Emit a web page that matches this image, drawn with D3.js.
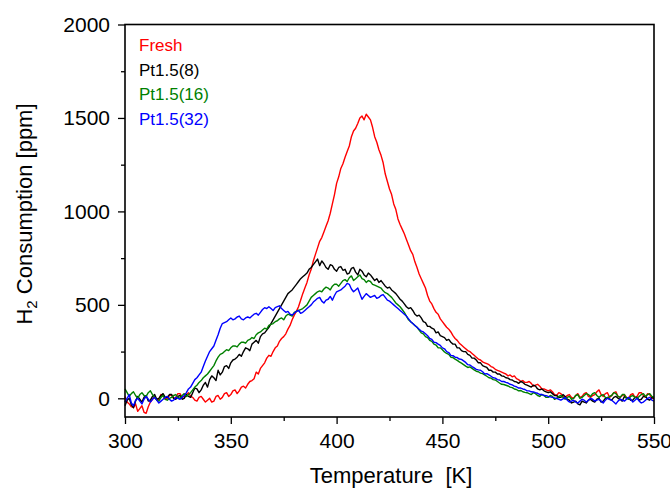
<!DOCTYPE html>
<html>
<head>
<meta charset="utf-8">
<script src="https://cdn.jsdelivr.net/npm/d3@7"></script>
<style>
  body { margin: 0; background: #fff; }
  svg { display: block; font-family: "Liberation Sans", Arial, sans-serif; }
</style>
</head>
<body>
<div id="chart"></div>
<script>
// temperatures: 300 K to 550 K, one reading every 1 K
var tStart = 300, tStep = 1;

var seriesNames = ["Fresh", "Pt1.5(8)", "Pt1.5(16)", "Pt1.5(32)"];
var seriesColors = ["#ff0000", "#000000", "#008000", "#0000ff"];

var fresh = [
  10,-20,-30,-45,-50,-30,-70,-55,-40,-75,
  -80,-45,-20,-5,10,-10,-5,20,15,-5,
  0,15,20,0,5,25,25,5,10,20,
  30,10,5,-10,-15,5,10,-5,-20,-10,
  0,-20,-15,10,15,-5,5,25,30,10,
  20,40,45,25,40,60,65,55,75,90,
  95,105,140,130,160,175,190,215,230,225,
  250,270,280,305,320,330,345,370,390,420,
  445,465,490,525,560,590,620,660,690,735,
  770,805,840,860,890,920,950,990,1040,1090,
  1150,1185,1230,1255,1290,1320,1350,1400,1430,1445,
  1470,1500,1510,1490,1520,1505,1490,1450,1400,1370,
  1330,1300,1260,1200,1160,1120,1090,1040,1010,960,
  930,905,880,850,820,790,770,730,700,665,
  640,615,590,550,520,505,480,460,450,425,
  410,395,380,370,355,335,320,310,295,285,
  275,265,255,250,240,230,220,210,205,195,
  190,185,180,170,165,155,150,145,140,135,
  130,120,125,115,120,105,100,90,95,85,
  85,90,80,65,70,75,65,50,50,45,
  40,45,35,20,15,30,25,10,5,15,
  20,5,0,15,25,5,10,25,30,10,
  5,15,20,35,45,20,10,25,30,5,
  15,30,35,10,5,15,20,5,0,20,
  25,5,10,30,30,15,5,25,20,0,
  0];

var pt8 = [
  -40,-10,0,-35,-50,-15,10,-5,-20,5,
  15,-15,-10,10,20,-5,0,15,25,5,
  5,20,20,0,-5,10,15,-5,0,20,
  10,5,30,55,50,30,45,70,85,60,
  100,120,110,95,150,125,140,170,175,160,
  190,205,210,220,235,225,250,270,265,255,
  290,300,310,295,330,345,350,365,380,400,
  420,440,460,480,500,520,540,560,570,580,
  595,610,625,640,650,660,670,690,700,715,
  730,745,710,735,720,700,690,715,710,690,
  680,700,705,685,690,665,670,695,700,675,
  660,690,680,660,650,670,660,645,630,640,
  620,630,615,600,590,595,580,570,560,545,
  530,520,505,490,480,485,470,450,440,445,
  430,410,405,385,385,375,370,350,355,335,
  330,325,310,315,300,290,290,270,270,255,
  250,250,235,230,215,215,205,190,190,175,
  170,165,150,150,140,140,130,130,120,118,
  110,108,100,98,90,88,80,90,85,75,
  70,65,60,70,65,50,45,50,40,35,
  30,35,25,15,15,5,5,20,10,-5,
  -10,-25,-20,-15,-30,-35,-15,-20,-25,-10,
  -5,-15,-20,-5,0,-20,-15,0,5,-5,
  -10,5,10,0,-5,-15,10,0,0,-10,
  -10,5,5,-10,-5,10,10,-5,-10,5,
  0];

var pt16 = [
  50,30,10,25,35,15,0,20,30,15,
  10,30,40,20,5,-10,-15,5,15,-5,
  -10,0,5,15,20,5,0,15,25,10,
  20,30,45,60,70,85,95,110,120,130,
  145,160,175,200,220,235,240,250,260,255,
  270,280,280,275,290,300,300,295,310,315,
  325,320,340,350,355,365,375,370,390,395,
  400,410,415,425,430,420,440,450,445,440,
  460,465,470,475,480,490,500,520,540,550,
  560,570,575,570,585,595,590,580,600,610,
  610,600,615,630,635,625,645,655,630,640,
  650,660,640,635,620,630,625,610,605,600,
  595,590,575,565,560,550,540,525,510,500,
  490,475,460,440,420,410,400,390,380,365,
  350,345,330,325,310,305,290,285,270,270,
  260,248,240,235,220,218,210,203,195,188,
  180,172,165,168,160,152,145,142,135,132,
  125,118,110,108,100,98,90,82,75,74,
  70,66,60,57,50,47,40,42,35,32,
  30,25,20,30,25,15,10,20,15,5,
  5,15,10,-5,0,10,15,5,-5,5,
  10,-5,0,15,20,0,5,15,25,20,
  10,25,30,15,5,15,20,5,0,10,
  15,30,25,10,5,20,20,0,-5,10,
  15,5,0,10,20,25,10,20,25,10,
  5];

var pt32 = [
  -20,0,20,-25,-40,-10,0,-15,-30,-5,
  10,-5,-20,-5,5,-10,-25,-15,-5,5,
  10,-5,-15,-10,5,0,-5,5,15,30,
  50,60,80,100,110,125,140,170,200,225,
  250,265,280,310,340,375,400,405,410,420,
  430,420,425,435,440,425,420,430,435,430,
  440,450,455,445,460,475,485,480,490,480,
  470,485,490,495,480,470,460,465,450,445,
  455,465,470,455,460,470,480,490,500,515,
  525,535,540,520,510,525,530,545,525,550,
  570,575,580,590,600,615,610,585,570,580,
  590,560,530,545,560,550,540,545,550,535,
  540,550,555,540,525,520,510,500,490,480,
  470,460,450,440,425,410,400,390,380,370,
  360,355,345,335,320,315,300,298,290,283,
  270,265,250,245,230,228,220,218,210,208,
  200,192,180,178,170,163,155,152,150,142,
  130,132,125,118,110,108,100,98,90,90,
  85,82,75,72,65,62,55,55,50,47,
  40,40,35,34,30,27,20,21,15,14,
  10,8,5,2,0,-5,-10,-3,5,-10,
  -20,-15,-10,-20,-25,-15,-5,-10,-20,-10,
  0,-5,-15,-10,-5,-15,-25,-10,0,-5,
  -10,-20,-30,-15,-5,-10,-15,-5,5,-5,
  -20,-10,0,-15,-25,-20,-10,0,5,-10,
  -15];

var seriesValues = [fresh, pt8, pt16, pt32];

var xTicks = [300, 350, 400, 450, 500, 550];
var yTicks = [0, 500, 1000, 1500, 2000];

// layout
var W = 670, H = 488;
var margin = {top: 24.5, right: 16, bottom: 71, left: 125};
var width = W - margin.left - margin.right;
var height = H - margin.top - margin.bottom;

var svg = d3.select("#chart").append("svg")
  .attr("width", W)
  .attr("height", H);

var g = svg.append("g")
  .attr("transform", "translate(" + margin.left + "," + margin.top + ")");

var x = d3.scaleLinear().domain([300, 550]).range([0, width]);
var y = d3.scaleLinear().domain([-100, 2000]).range([height, 0]);

// curves
var line = d3.line()
  .x(function(d, i) { return x(tStart + i * tStep); })
  .y(function(d) { return y(d); });

seriesValues.forEach(function(vals, k) {
  g.append("path")
    .datum(vals)
    .attr("fill", "none")
    .attr("stroke", seriesColors[k])
    .attr("stroke-width", 1.4)
    .attr("stroke-linejoin", "round")
    .attr("d", line);
});

// frame
g.append("rect")
  .attr("width", width)
  .attr("height", height)
  .attr("fill", "none")
  .attr("stroke", "#000")
  .attr("stroke-width", 1.6);

// minor ticks
var xMinor = d3.range(325, 550, 50);
var yMinor = d3.range(250, 2000, 500);

g.append("g")
  .attr("transform", "translate(0," + height + ")")
  .call(d3.axisBottom(x).tickValues(xMinor).tickSize(4).tickFormat(""))
  .call(function(a) { a.select(".domain").remove(); a.selectAll("line").attr("stroke-width", 1.3); });

g.append("g")
  .call(d3.axisLeft(y).tickValues(yMinor).tickSize(4).tickFormat(""))
  .call(function(a) { a.select(".domain").remove(); a.selectAll("line").attr("stroke-width", 1.3); });

// major axes
var xAxis = g.append("g")
  .attr("transform", "translate(0," + height + ")")
  .call(d3.axisBottom(x).tickValues(xTicks).tickSize(7).tickPadding(9).tickFormat(d3.format("d")));

var yAxis = g.append("g")
  .call(d3.axisLeft(y).tickValues(yTicks).tickSize(7).tickPadding(8).tickFormat(d3.format("d")));

[xAxis, yAxis].forEach(function(a) {
  a.select(".domain").remove();
  a.selectAll("line").attr("stroke-width", 1.3);
  a.selectAll("text")
    .attr("fill", "#000")
    .style("font-family", "'Liberation Sans', Arial, sans-serif")
    .style("font-size", "21px");
});

// axis titles
svg.append("text")
  .attr("x", 391)
  .attr("y", 483)
  .attr("text-anchor", "middle")
  .style("font-size", "22px")
  .style("white-space", "pre")
  .text("Temperature  [K]");

var yTitle = svg.append("text")
  .attr("transform", "translate(32,214) rotate(-90)")
  .attr("text-anchor", "middle")
  .style("font-size", "22px");
yTitle.append("tspan").text("H");
yTitle.append("tspan").attr("dy", 5).style("font-size", "15px").text("2");
yTitle.append("tspan").attr("dy", -5).text(" Consumption [ppm]");

// legend
var legend = svg.append("g");
seriesNames.forEach(function(name, k) {
  legend.append("text")
    .attr("x", 139)
    .attr("y", 51 + k * 24.6)
    .attr("fill", seriesColors[k])
    .style("font-size", "17px")
    .text(name);
});
</script>
</body>
</html>
